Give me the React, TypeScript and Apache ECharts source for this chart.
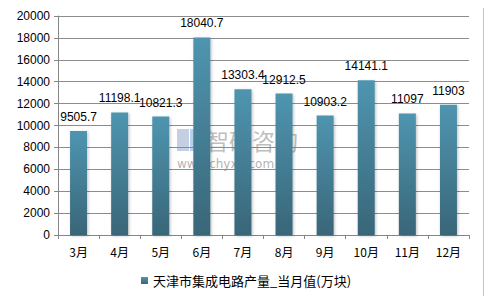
import React, { useEffect, useRef } from "react";
import * as echarts from "echarts";

const categories = ["3月", "4月", "5月", "6月", "7月", "8月", "9月", "10月", "11月", "12月"];
const values = [9505.7, 11198.1, 10821.3, 18040.7, 13303.4, 12912.5, 10903.2, 14141.1, 11097, 11903];
const seriesName = "天津市集成电路产量_当月值(万块)";

export default function App() {
  const ref = useRef<HTMLDivElement>(null);
  useEffect(() => {
    if (!ref.current) return;
    const chart = echarts.init(ref.current, undefined, { renderer: "svg" });
    const font = "'Liberation Sans', Arial, 'Noto Sans CJK SC', sans-serif";
    chart.setOption({
      animation: false,
      backgroundColor: "#fff",
      textStyle: { fontFamily: font },
      grid: { left: 58, right: 23, top: 16, bottom: 69, containLabel: false },
      legend: {
        bottom: 12,
        left: "center",
        itemWidth: 7,
        itemHeight: 7,
        icon: "rect",
        itemGap: 4,
        textStyle: { fontSize: 13, color: "#000", fontFamily: "'Noto Sans CJK SC', sans-serif" },
        data: [seriesName],
      },
      xAxis: {
        type: "category",
        data: categories,
        axisLine: { show: true, lineStyle: { color: "#868686" } },
        axisTick: { show: true, alignWithLabel: false, length: 4, lineStyle: { color: "#868686" } },
        axisLabel: { fontSize: 12, color: "#000", margin: 10, fontFamily: "'Noto Sans CJK SC', sans-serif" },
      },
      yAxis: {
        type: "value",
        min: 0,
        max: 20000,
        interval: 2000,
        axisLine: { show: true, lineStyle: { color: "#868686" } },
        axisTick: { show: true, length: 4, lineStyle: { color: "#868686" } },
        axisLabel: { fontSize: 12, color: "#000", margin: 8, formatter: (v: number) => String(v) },
        splitLine: { show: true, lineStyle: { color: "#8c8c8c", width: 1 } },
      },
      graphic: [
        {
          type: "rect",
          shape: { x: 5, y: 3, width: 479, height: 298 },
          style: { fill: "none", stroke: "#888", lineWidth: 1 },
          z: 100,
          silent: true,
        },
        {
          type: "group",
          z: 50,
          silent: true,
          children: [
            { type: "rect", shape: { x: 177, y: 129, width: 12, height: 22 }, style: { fill: "rgba(140,160,200,0.5)" } },
            { type: "rect", shape: { x: 190, y: 129, width: 12, height: 22 }, style: { fill: "rgba(110,170,230,0.5)" } },
            {
              type: "text",
              x: 206,
              y: 128,
              style: {
                text: "智研咨询",
                fontSize: 23,
                lineHeight: 23,
                fontFamily: "'Noto Sans CJK SC', sans-serif",
                fill: "rgba(110,110,110,0.45)",
                stroke: "rgba(255,255,255,0.6)",
                lineWidth: 1,
              },
            },
            {
              type: "text",
              x: 177,
              y: 158,
              style: {
                text: "www.chyxx.com",
                fontSize: 12,
                lineHeight: 12,
                fontFamily: "'DejaVu Sans', sans-serif",
                fill: "rgba(100,100,100,0.5)",
              },
            },
          ],
        },
      ],
      series: [
        {
          name: seriesName,
          type: "bar",
          data: values,
          barWidth: 17,
          itemStyle: {
            color: new echarts.graphic.LinearGradient(0, 0, 0, 1, [
              { offset: 0, color: "#4f95b0" },
              { offset: 1, color: "#396678" },
            ]),
            shadowColor: "rgba(0,0,0,0.25)",
            shadowBlur: 3,
            shadowOffsetX: 1,
            shadowOffsetY: 1,
          },
          label: {
            show: true,
            position: "top",
            distance: 8,
            fontSize: 12,
            color: "#000",
          },
        },
      ],
    });
    return () => chart.dispose();
  }, []);
  return <div ref={ref} style={{ width: 492, height: 304, margin: -8 }} />;
}
